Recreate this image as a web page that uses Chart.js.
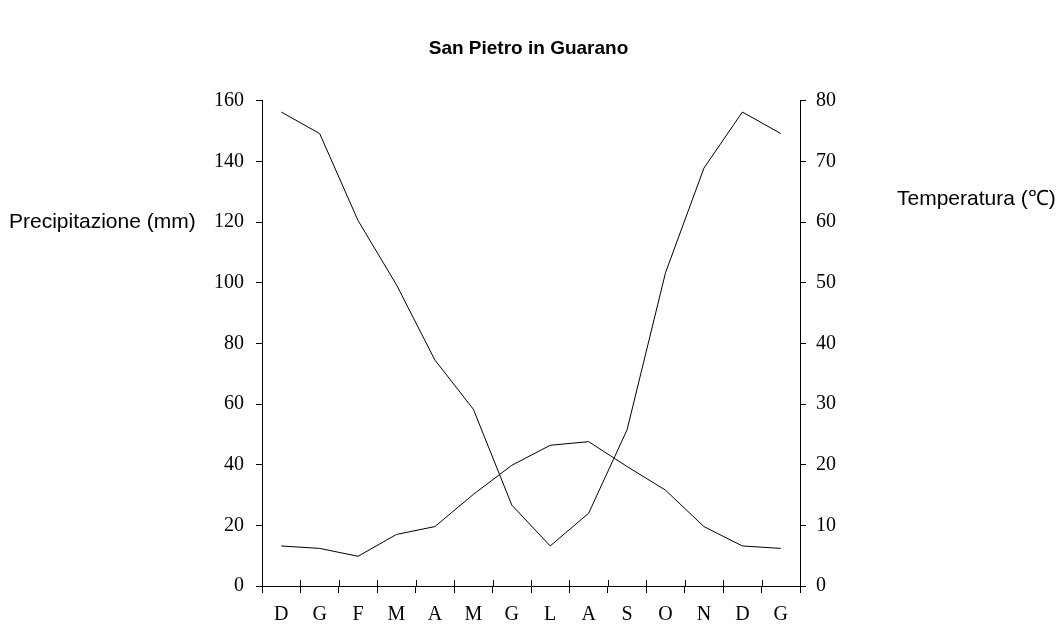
<!DOCTYPE html>
<html>
<head>
<meta charset="utf-8">
<script src="https://cdn.jsdelivr.net/npm/chart.js@4"></script>
<style>
  body { margin: 0; background: #fff; }
  #wrap { width: 1057px; height: 629px; }
</style>
</head>
<body>
<div id="wrap"><canvas id="chart"></canvas></div>
<script>
const months = ['D', 'G', 'F', 'M', 'A', 'M', 'G', 'L', 'A', 'S', 'O', 'N', 'D', 'G']
const precipitazione = [156.3, 149.2, 120.5, 99.3, 74.5, 58.3, 26.7, 13.2, 24.0, 51.5, 103.3, 137.8, 156.3, 149.2]
const temperatura = [6.6, 6.2, 4.9, 8.5, 9.8, 15.1, 19.9, 23.2, 23.8, 19.7, 15.8, 9.8, 6.6, 6.2]
const precipTicks = [0, 20, 40, 60, 80, 100, 120, 140, 160]
const tempTicks = [0, 10, 20, 30, 40, 50, 60, 70, 80]

const titleText = 'San Pietro in Guarano'
const leftTitle = 'Precipitazione (mm)'
const rightTitle = 'Temperatura (\u2103)'

const serif = "'Liberation Serif', 'Times New Roman', serif"
const sans = "'Liberation Sans', Arial, sans-serif"

// ticks on the x axis cross the line, chart.js only draws the outer half
const extrasPlugin = {
    id: 'extras',
    afterDraw(chart) {
        const ctx = chart.ctx
        const xs = chart.scales.x
        const area = chart.chartArea
        ctx.save()
        ctx.strokeStyle = '#000'
        ctx.lineWidth = 1
        ctx.beginPath()
        for (let i = 0; i <= months.length; i++) {
            const px = Math.round(xs.getPixelForValue(i - 0.5)) + 0.5
            ctx.moveTo(px, area.bottom - 6)
            ctx.lineTo(px, area.bottom)
        }
        ctx.stroke()

        // axis titles sit horizontally beside the axes
        ctx.fillStyle = '#000'
        ctx.font = '21px ' + sans
        ctx.textBaseline = 'middle'
        ctx.textAlign = 'left'
        const ys = chart.scales.y
        ctx.fillText(leftTitle, 9, ys.getPixelForValue(120))
        const y1 = chart.scales.y1
        ctx.fillText(rightTitle, 897, y1.getPixelForValue(63.8))
        ctx.restore()
    }
}

const ctx = document.getElementById('chart').getContext('2d')
const myChart = new Chart(ctx, {
    type: 'line',
    data: {
        labels: months,
        datasets: [{
            label: 'Precipitazione',
            data: precipitazione,
            yAxisID: 'y',
            borderColor: '#000',
            borderWidth: 1,
            pointRadius: 0,
            tension: 0,
            fill: false
        }, {
            label: 'Temperatura',
            data: temperatura,
            yAxisID: 'y1',
            borderColor: '#000',
            borderWidth: 1,
            pointRadius: 0,
            tension: 0,
            fill: false
        }]
    },
    options: {
        responsive: true,
        maintainAspectRatio: false,
        animation: false,
        layout: { padding: 0 },
        plugins: {
            legend: { display: false },
            tooltip: { enabled: false },
            title: {
                display: true,
                text: titleText,
                color: '#000',
                font: { family: sans, size: 19, weight: 'bold' },
                padding: { top: 37, bottom: 41 }
            }
        },
        scales: {
            x: {
                type: 'category',
                offset: true,
                grid: { offset: true, drawOnChartArea: false, drawTicks: true, tickLength: 7, color: '#000' },
                border: { display: true, color: '#000', width: 1 },
                ticks: {
                    color: '#000',
                    font: { family: serif, size: 20 },
                    padding: 10,
                    maxRotation: 0,
                    autoSkip: false
                },
                afterFit: (scale) => { scale.height = 43 }
            },
            y: {
                position: 'left',
                min: 0,
                max: 160,
                afterBuildTicks: (scale) => { scale.ticks = precipTicks.map(v => ({ value: v })) },
                grid: { drawOnChartArea: false, drawTicks: true, tickLength: 6, color: '#000' },
                border: { display: true, color: '#000', width: 1 },
                ticks: { color: '#000', font: { family: serif, size: 20 }, padding: 12 },
                afterFit: (scale) => { scale.width = 262 }
            },
            y1: {
                position: 'right',
                min: 0,
                max: 80,
                afterBuildTicks: (scale) => { scale.ticks = tempTicks.map(v => ({ value: v })) },
                grid: { drawOnChartArea: false, drawTicks: true, tickLength: 6, color: '#000' },
                border: { display: true, color: '#000', width: 1 },
                ticks: { color: '#000', font: { family: serif, size: 20 }, padding: 10 },
                afterFit: (scale) => { scale.width = 257 }
            }
        }
    },
    plugins: [extrasPlugin]
})
</script>
</body>
</html>
